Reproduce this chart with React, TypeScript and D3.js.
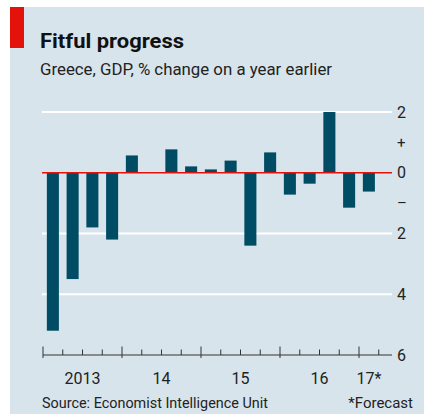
import * as React from 'react';
import * as d3 from 'd3';

const quarters = [
  '2013Q1', '2013Q2', '2013Q3', '2013Q4',
  '2014Q1', '2014Q2', '2014Q3', '2014Q4',
  '2015Q1', '2015Q2', '2015Q3', '2015Q4',
  '2016Q1', '2016Q2', '2016Q3', '2016Q4',
  '2017Q1',
];
const gdpChange = [
  -5.2, -3.5, -1.8, -2.2,
  0.57, 0, 0.77, 0.21,
  0.11, 0.4, -2.4, 0.67,
  -0.72, -0.36, 2.0, -1.15,
  -0.62,
];
const yearLabels = ['2013', '14', '15', '16', '17*'];
const yTicks = [2, 0, -2, -4, -6];

const FONT = 'Roboto, "Noto Sans", sans-serif';
const BG = '#d8e4ec';
const BAR = '#004c64';
const RED = '#e3120b';

export default function App() {
  const width = 424;
  const height = 414;
  const plotLeft = 43;
  const plotRight = 392;
  const pad = 0.39;

  const x = d3.scaleBand<string>()
    .domain(quarters)
    .range([plotLeft, plotLeft + 19.75 * quarters.length])
    .paddingInner(pad)
    .paddingOuter(pad / 2);
  const y = d3.scaleLinear().domain([2, -6]).range([112, 355]);

  const gap = (x.step() - x.bandwidth()) / 2;
  const boundary = (i: number) =>
    i < quarters.length ? (x(quarters[i]) as number) - gap : (x(quarters[i - 1]) as number) - gap + x.step();
  const boundaries = d3.range(quarters.length + 1);
  const axisY = y(-6);

  return (
    <svg width={width} height={height} style={{ position: 'fixed', left: 0, top: 0 }}>
      <rect x={10} y={7} width={width - 10} height={height - 7} fill={BG} />
      <rect x={10} y={7} width={14} height={41} fill={RED} />
      <text x={40} y={48} fontFamily={FONT} fontWeight={700} fontSize={20} fill="#111"
        textLength={144} lengthAdjust="spacingAndGlyphs">Fitful progress</text>
      <text x={40} y={75} fontFamily={FONT} fontSize={16} fill="#222"
        textLength={292} lengthAdjust="spacingAndGlyphs">Greece, GDP, % change on a year earlier</text>

      {yTicks.filter(t => t !== 0 && t !== -6).map(t => (
        <line key={t} x1={plotLeft - 1} x2={plotRight} y1={y(t)} y2={y(t)} stroke="#fff" strokeWidth={2} />
      ))}

      {quarters.map((q, i) => {
        const v = gdpChange[i];
        if (v === 0) return null;
        return (
          <rect key={q} x={x(q)} width={x.bandwidth()}
            y={y(Math.max(0, v))} height={Math.abs(y(v) - y(0))} fill={BAR} />
        );
      })}

      <line x1={plotLeft - 1} x2={plotRight} y1={y(0)} y2={y(0)} stroke={RED} strokeWidth={1.5} />

      {yTicks.map(t => (
        <text key={t} x={397} y={y(t)} dy="0.35em" fontFamily={FONT} fontSize={16} fill="#222">{Math.abs(t)}</text>
      ))}
      <text x={397} y={y(1)} dy="0.35em" fontFamily={FONT} fontSize={15} fill="#222">+</text>
      <text x={397} y={y(-1)} dy="0.35em" fontFamily={FONT} fontSize={15} fill="#222">–</text>

      <line x1={plotLeft} x2={plotRight} y1={axisY} y2={axisY} stroke="#333" strokeWidth={1} />
      {boundaries.map(i => {
        const bx = boundary(i);
        const major = i % 4 === 0;
        return (
          <line key={i} x1={bx} x2={bx} y1={major ? axisY - 8.5 : axisY - 5.5} y2={major ? axisY + 3 : axisY}
            stroke="#333" strokeWidth={1} />
        );
      })}
      {yearLabels.map((label, k) => {
        const first = k * 4;
        const last = Math.min(first + 4, quarters.length);
        const cx = (boundary(first) + boundary(last)) / 2;
        return (
          <text key={label} x={cx} y={384} textAnchor="middle" fontFamily={FONT} fontSize={16} fill="#222">{label}</text>
        );
      })}

      <text x={42} y={408} fontFamily={FONT} fontSize={15} fill="#222"
        textLength={226} lengthAdjust="spacingAndGlyphs">Source: Economist Intelligence Unit</text>
      <text x={413} y={408} textAnchor="end" fontFamily={FONT} fontSize={15} fill="#222">*Forecast</text>
    </svg>
  );
}
